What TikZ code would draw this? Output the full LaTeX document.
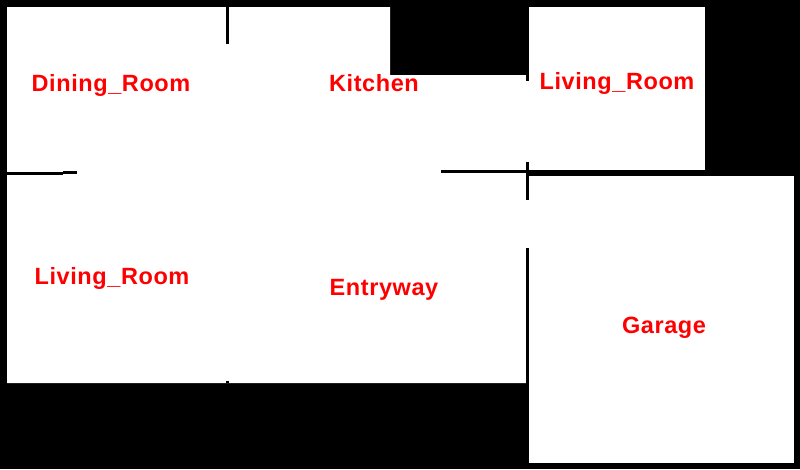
\documentclass[tikz,border=0pt]{standalone}
\usepackage{fontspec}
\newfontfamily\labelfont[LetterSpace=2.5]{Liberation Sans Bold}
\definecolor{labelred}{RGB}{255,0,0}
\tikzstyle{roomfloor}=[fill=white,draw=none]
\tikzstyle{wall}=[fill=black,draw=none]
\tikzstyle{roomlabel}=[text=labelred,anchor=base,inner sep=0pt,font=\labelfont\fontsize{23.5}{23.5}\selectfont]
\newcommand{\drawwall}[4]{ % Syntax: {left}{top}{right}{bottom}
\fill[wall] (#1,#2) rectangle (#3,#4);
}
\begin{document}
\begin{tikzpicture}[x=1pt,y=-1pt]
	\useasboundingbox (0,0) rectangle (800,469);
	\fill[black] (0,0) rectangle (800,469);
	% rooms
	\fill[roomfloor] (7,7) -- (390,7) -- (390,75) -- (526,75) -- (526,383) -- (7,383) -- cycle;
	\fill[roomfloor] (529,7) rectangle (705,170);
	\fill[roomfloor] (529,176) rectangle (794,463);
	\fill[roomfloor] (526,81) rectangle (529,162);
	\fill[roomfloor] (526,200) rectangle (529,248);
	% walls
	\drawwall{226}{7}{229}{44}
	\drawwall{226}{381}{229}{383}
	\drawwall{7}{172}{63}{175}
	\drawwall{63}{171}{77}{174}
	\drawwall{441}{170}{526}{173}
	\drawwall{526}{75}{529}{81}
	\drawwall{526}{162}{529}{200}
	\drawwall{526}{248}{529}{383}
	% labels
	\node[roomlabel] (diningroom) at (111,91) {Dining\_Room};
	\node[roomlabel] (kitchen) at (374,91) {Kitchen};
	\node[roomlabel] (livingroomnorth) at (617,89) {Living\_Room};
	\node[roomlabel] (livingroomsouth) at (112,284) {Living\_Room};
	\node[roomlabel] (entryway) at (384,295) {Entryway};
	\node[roomlabel] (garage) at (664,333) {Garage};
\end{tikzpicture}
\end{document}
